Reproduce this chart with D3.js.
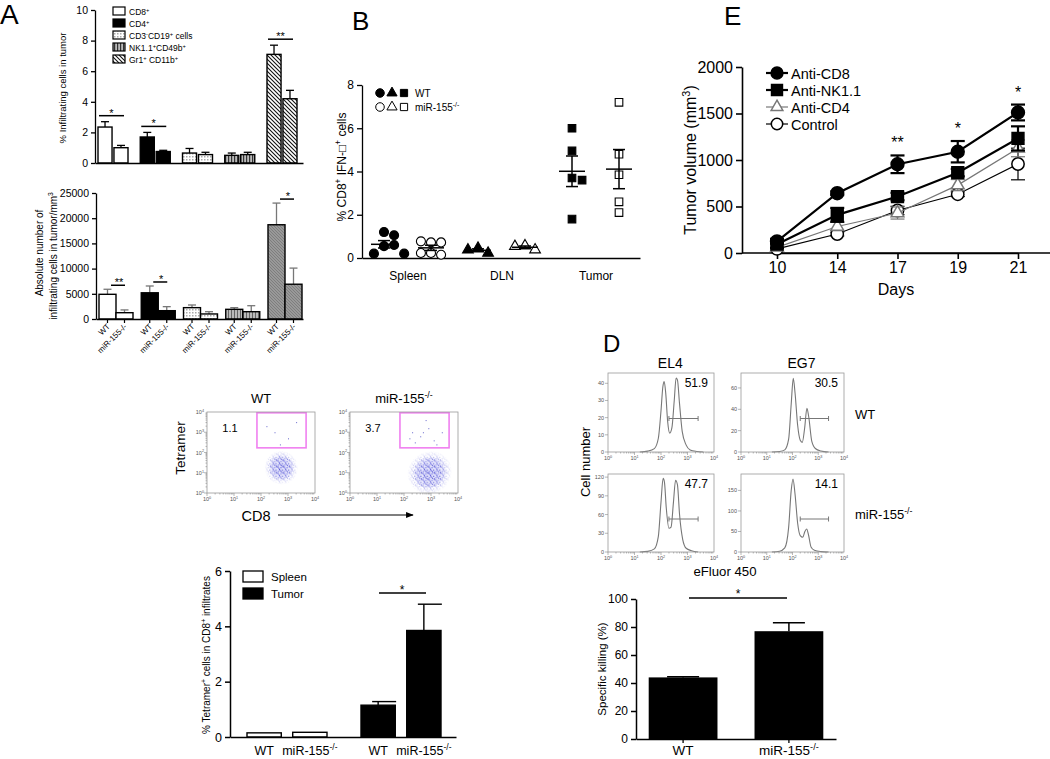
<!DOCTYPE html>
<html><head><meta charset="utf-8">
<script src="https://cdn.jsdelivr.net/npm/d3@7"></script>
<style>body{margin:0;background:#fff}svg{font-family:"Liberation Sans",Arial,sans-serif}</style>
</head><body><svg id="c" width="1050" height="759"></svg>
<script>
// ================= DATA =================
const aCategories = ["CD8+","CD4+","CD3-CD19+","NK1.1+CD49b+","Gr1+CD11b+"];
const aLegendLabels = ["CD8^{+}","CD4^{+}","CD3^{-}CD19^{+} cells","NK1.1^{+}CD49b^{+}","Gr1^{+} CD11b^{+}"];
const aGroups = ["WT","miR-155-/-"];
const aPctWT = [2.35,1.7,0.65,0.5,7.1];
const aPctWTErr = [0.35,0.3,0.3,0.15,0.6];
const aPctKO = [1.0,0.75,0.55,0.55,4.2];
const aPctKOErr = [0.15,0.08,0.15,0.15,0.55];
const aPctTicks = [0,2,4,6,8,10];
const aAbsWT = [4900,5200,2250,1920,18700];
const aAbsWTErr = [1000,1350,530,330,4300];
const aAbsKO = [1250,1650,1000,1450,6900];
const aAbsKOErr = [550,800,450,1190,3200];
const aAbsTicks = [0,5000,10000,15000,20000,25000];
const aPctSig = [["CD8+","*"],["CD4+","*"],["Gr1+CD11b+","**"]];
const aAbsSig = [["CD8+","**"],["CD4+","*"],["Gr1+CD11b+","*"]];
const bTissues = ["Spleen","DLN","Tumor"];
const bWTValues = [[1.2,1.05,0.55,0.6,0.2,0.2],[0.46,0.23,0.38],[6.0,4.95,3.7,3.6,1.8]];
const bKOValues = [[0.72,0.72,0.77,0.23,0.15,0.23],[0.57,0.38,0.54],[7.2,4.8,3.85,2.6,2.1]];
const bTicks = [0,2,4,6,8];
const eDays = ["10","14","17","19","21"];
const eNames = ["Anti-CD8","Anti-NK1.1","Anti-CD4","Control"];
const eCD8 = [125,643,954,1089,1511];  const eCD8Err = [25,20,95,115,85];
const eNK = [95,410,607,864,1232];     const eNKErr = [40,75,40,40,130];
const eCD4 = [60,285,430,730,1125];    const eCD4Err = [20,45,65,60,90];
const eCtrl = [45,204,457,632,957];    const eCtrlErr = [15,20,45,25,170];
const eSig = [["17","**"],["19","*"],["21","*"]];
const eTicks = [0,500,1000,1500,2000];
const flowTitles = ["WT","miR-155^{-/-}"];
const flowGatePct = ["1.1","3.7"];
const flowGate = {x0:1.85,x1:3.67,y0:2.23,y1:3.96};
const flowClouds = [{cx:2.75,cy:1.25,rx:0.62,ry:0.85,rot:-30},{cx:2.95,cy:1.0,rx:0.85,ry:1.05,rot:-35}];
const flowGateDotsWT = [[2.5,3.0],[3.0,2.7],[3.3,3.5],[2.7,2.4],[2.2,3.3]];
const flowGateDotsKO = [[2.3,3.0],[2.6,2.8],[2.9,3.2],[3.1,2.6],[2.4,2.5],[3.4,3.0],[2.8,3.6],[2.2,2.7],[3.2,2.4],[2.7,3.0]];
const logTickLabels = ["10^{0}","10^{1}","10^{2}","10^{3}","10^{4}"];
const tTissues = ["Spleen","Tumor"];
const tWT = [0.15,1.15]; const tWTErr = [0,0.13];
const tKO = [0.17,3.85]; const tKOErr = [0,0.95];
const tTicks = [0,2,4,6];
const histTitles = ["EL4","EG7"];
const histRows = ["WT","miR-155^{-/-}"];
const histPct = [["51.9","30.5"],["47.7","14.1"]];
const histEL4WT = [[1.2,0],[1.5,0.5],[1.75,2],[1.9,8],[2.0,24],[2.07,38],[2.12,41],[2.18,34],[2.25,18],[2.33,11],[2.41,14],[2.5,30],[2.57,43],[2.62,42],[2.7,28],[2.8,12],[2.95,4],[3.1,1.2],[3.35,0.3],[3.6,0]];
const histEG7WT = [[1.2,0],[1.5,0.5],[1.7,2],[1.85,12],[1.95,45],[2.03,69],[2.1,55],[2.2,25],[2.3,11],[2.38,9],[2.47,22],[2.56,41],[2.63,33],[2.75,10],[2.9,3],[3.1,1],[3.4,0]];
const histEL4KO = [[1.2,0],[1.5,1],[1.75,5],[1.9,25],[2.0,80],[2.08,118],[2.13,112],[2.2,70],[2.3,38],[2.38,40],[2.47,80],[2.55,115],[2.62,108],[2.7,60],[2.82,20],[2.95,6],[3.15,2],[3.4,0]];
const histEG7KO = [[1.2,0],[1.5,2],[1.7,10],[1.85,60],[1.95,150],[2.02,178],[2.1,140],[2.2,70],[2.3,40],[2.4,36],[2.48,50],[2.55,56],[2.62,42],[2.72,12],[2.85,4],[3.1,1],[3.4,0]];
const histYMax = [[46,74],[125,190]];
const histYTicks = [[[0,10,20,30,40],[0,20,40,60]],[[0,30,60,90,120],[0,50,100,150]]];
const histGate = [2.3,3.4];
const dGroups = ["WT","miR-155^{-/-}"];
const dVals = [44,77]; const dErr = [0.5,6];
const dTicks = [0,20,40,60,80,100];

// ================= HELPERS =================
const svg = d3.select("#c");
const defs = svg.append("defs");
const fmtInt = d3.format("d");
function rich(t, str, fs){
  t.attr("font-size", fs);
  const parts=[]; const re=/\^\{([^}]*)\}/g; let last=0,m;
  while((m=re.exec(str))){ if(m.index>last) parts.push([str.slice(last,m.index),false]); parts.push([m[1],true]); last=re.lastIndex; }
  if(last<str.length) parts.push([str.slice(last),false]);
  let cur=0;
  parts.forEach(([s,sup])=>{ const tgt = sup? -0.38*fs : 0; t.append("tspan").attr("dy", tgt-cur).attr("font-size", sup? fs*0.68: fs).text(s); cur=tgt; });
  return t;
}
function txt(g,x,y,str,fs,o={}){
  const t = g.append("text").attr("x",x).attr("y",y).attr("text-anchor",o.anchor||"start").attr("fill",o.fill||"#000");
  if(o.rotate!==undefined) t.attr("transform",`rotate(${o.rotate},${x},${y})`);
  return rich(t,str,fs);
}
function styleAxis(g,fs,sw=1.3,col="#000"){
  g.attr("font-family",null);
  g.selectAll("path,line").attr("stroke",col).attr("stroke-width",sw);
  g.selectAll("text").attr("font-size",fs).attr("fill","#000");
}
function pat(id,w,h,bg,draw){
  const p=defs.append("pattern").attr("id",id).attr("patternUnits","userSpaceOnUse").attr("width",w).attr("height",h);
  p.append("rect").attr("width",w).attr("height",h).attr("fill",bg); draw(p);
}
pat("pDot",3,3,"#fff",p=>{p.append("rect").attr("width",1.5).attr("height",1.5).attr("fill","#aaa");});
pat("pVT",3,3,"#bbb",p=>p.append("rect").attr("width",1.2).attr("height",3).attr("fill","#333"));
pat("pVB",3,3,"#bbb",p=>p.append("rect").attr("width",1).attr("height",3).attr("fill","#666"));
pat("pDiagT",4,4,"#fff",p=>p.append("path").attr("d","M-1,3 l2,2 M0,0 l4,4 M3,-1 l2,2").attr("stroke","#111").attr("stroke-width",1.1));
pat("pDiagB",3,3,"#999",p=>p.append("path").attr("d","M-1,2 l2,2 M0,0 l3,3 M2,-1 l2,2").attr("stroke","#777").attr("stroke-width",0.8));
// irregular dot texture for the flow-cytometry density clouds
const texDots = [[0.3,0.4,"#2a2ac8"],[3.1,1.0,"#5a5ae0"],[1.7,2.8,"#2a2ac8"],[4.6,3.3,"#3a3ad0"],[0.6,4.7,"#6a6ae8"],[3.5,5.1,"#2a2ac8"],[5.2,0.1,"#3a3ad0"],[2.4,4.0,"#4a4ad8"],[5.6,5.5,"#2a2ac8"],[1.2,1.6,"#7070e8"]];
pat("fdots",6.3,6.3,"none",p=>texDots.forEach(([x,y,c])=>p.append("rect").attr("x",x).attr("y",y).attr("width",1.1).attr("height",1.1).attr("fill",c)));
const rg = defs.append("radialGradient").attr("id","cloudGrad");
rg.append("stop").attr("offset","0").attr("stop-color","#fff");
rg.append("stop").attr("offset","0.5").attr("stop-color","#bbb");
rg.append("stop").attr("offset","1").attr("stop-color","#000");

// ================= PANEL A =================
const gA = svg.append("g");
txt(gA,0,24,"A",28);
const topFills = ["#fff","#000","url(#pDot)","url(#pVT)","url(#pDiagT)"];
const botFills = ["#fff","#000","url(#pDot)","url(#pVB)","url(#pDiagB)"];
function barsA(g,xs,sub,y,wt,wtE,ko,koE,fills,errCol){
  const rows = aCategories.flatMap((c,i)=>[{c,i,grp:aGroups[0],v:wt[i],e:wtE[i]},{c,i,grp:aGroups[1],v:ko[i],e:koE[i]}]);
  const cx = d=>xs(d.c)+sub(d.grp)+sub.bandwidth()/2;
  g.selectAll(null).data(rows).join("line").attr("x1",cx).attr("x2",cx).attr("y1",d=>y(d.v)).attr("y2",d=>y(d.v+d.e)).attr("stroke",errCol).attr("stroke-width",1.3);
  g.selectAll(null).data(rows).join("line").attr("x1",d=>cx(d)-4).attr("x2",d=>cx(d)+4).attr("y1",d=>y(d.v+d.e)).attr("y2",d=>y(d.v+d.e)).attr("stroke",errCol).attr("stroke-width",1.3);
  g.selectAll(null).data(rows).join("rect").attr("x",d=>xs(d.c)+sub(d.grp)).attr("y",d=>y(d.v)).attr("width",sub.bandwidth()).attr("height",d=>y(0)-y(d.v)).attr("fill",d=>fills[d.i]).attr("stroke","#000").attr("stroke-width",1.4);
  return {rows,cx};
}
const yA1 = d3.scaleLinear().domain([0,10]).range([163,10]);
const xA1 = d3.scalePoint().domain(aCategories).range([113,282]);
const sA1 = d3.scaleBand().domain(aGroups).range([-15,15]).paddingInner(0.12);
barsA(gA,xA1,sA1,yA1,aPctWT,aPctWTErr,aPctKO,aPctKOErr,topFills,"#000");
styleAxis(gA.append("g").attr("transform","translate(95,0)").call(d3.axisLeft(yA1).tickValues(aPctTicks).tickFormat(fmtInt).tickSize(4).tickSizeOuter(0)),10.5);
styleAxis(gA.append("g").attr("transform","translate(0,163)").call(d3.axisBottom(d3.scaleLinear().range([95,303])).tickValues([]).tickSizeOuter(0)),10);
txt(gA,66,88,"% Infiltrating cells in tumor",9.5,{anchor:"middle",rotate:-90});
aPctSig.forEach(([c,s])=>{
  const i=aCategories.indexOf(c); const top=Math.max(aPctWT[i]+aPctWTErr[i],aPctKO[i]+aPctKOErr[i]);
  const ly=yA1(top)-6;
  gA.append("line").attr("x1",xA1(c)-14).attr("x2",xA1(c)+11).attr("y1",ly).attr("y2",ly).attr("stroke","#000").attr("stroke-width",1.5);
  txt(gA,xA1(c)-1.5,ly+1,s,11,{anchor:"middle"});
});
aLegendLabels.forEach((l,i)=>{
  gA.append("rect").attr("x",113).attr("y",7+i*12).attr("width",12).attr("height",8).attr("fill",topFills[i]).attr("stroke","#000").attr("stroke-width",1.2);
  txt(gA,129,15+i*12,l,8.5);
});
const yA2 = d3.scaleLinear().domain([0,25000]).range([319,193]);
const xA2 = d3.scalePoint().domain(aCategories).range([116,285]);
const sA2 = d3.scaleBand().domain(aGroups).range([-17,17]).paddingInner(0);
const bA2 = barsA(gA,xA2,sA2,yA2,aAbsWT,aAbsWTErr,aAbsKO,aAbsKOErr,botFills,"#777");
styleAxis(gA.append("g").attr("transform","translate(96,0)").call(d3.axisLeft(yA2).tickValues(aAbsTicks).tickFormat(fmtInt).tickSize(4).tickSizeOuter(0)),10.5);
styleAxis(gA.append("g").attr("transform","translate(0,319)").call(d3.axisBottom(d3.scaleLinear().range([96,303])).tickValues([]).tickSizeOuter(0)),10);
gA.selectAll(null).data(bA2.rows).join("line").attr("x1",bA2.cx).attr("x2",bA2.cx).attr("y1",319).attr("y2",323).attr("stroke","#000").attr("stroke-width",1.2);
bA2.rows.forEach(d=>{ txt(gA,bA2.cx(d)+3,327,d.grp,8,{anchor:"end",rotate:-45}); });
txt(gA,43,253,"Absolute number of",10,{anchor:"middle",rotate:-90});
txt(gA,57,256,"infiltrating cells in tumor/mm^{3}",10,{anchor:"middle",rotate:-90});
aAbsSig.forEach(([c,s])=>{
  const i=aCategories.indexOf(c); const top=Math.max(aAbsWT[i]+aAbsWTErr[i],aAbsKO[i]+aAbsKOErr[i]);
  const ly=yA2(top)-4;
  gA.append("line").attr("x1",xA2(c)-5).attr("x2",xA2(c)+9).attr("y1",ly).attr("y2",ly).attr("stroke","#000").attr("stroke-width",1.5);
  txt(gA,xA2(c)+3,ly+1,s,11,{anchor:"middle"});
});

// ================= PANEL B =================
const gB = svg.append("g");
txt(gB,352,30,"B",26);
const yB = d3.scaleLinear().domain([0,8]).range([258,85]);
const xB = d3.scalePoint().domain(bTissues).range([408,596]);
const sB = d3.scalePoint().domain(["WT","KO"]).range([-24,23]);
styleAxis(gB.append("g").attr("transform","translate(362,0)").call(d3.axisLeft(yB).tickValues(bTicks).tickFormat(fmtInt).tickSize(5).tickSizeOuter(0)),12);
styleAxis(gB.append("g").attr("transform","translate(0,258)").call(d3.axisBottom(d3.scaleLinear().range([362,640])).tickValues([]).tickSizeOuter(0)),12);
bTissues.forEach(t=>txt(gB,xB(t),280,t,12,{anchor:"middle"}));
txt(gB,346,167,"% CD8^{+} IFN-\u25A1^{+} cells",12,{anchor:"middle",rotate:-90});
const bShapes = [d3.symbolCircle,d3.symbolTriangle,d3.symbolSquare];
const bSizes = [64,50,58];
function swarm(vals,y,r){
  const placed=[];
  return vals.map(v=>{ const py=y(v); let off=0;
    for(let k=0;k<30;k++){ const cand = k===0?0:(k%2?1:-1)*Math.ceil(k/2)*r*2.1;
      if(placed.every(p=>Math.hypot(p.x-cand,p.y-py)>=2*r)){off=cand;break;} }
    placed.push({x:off,y:py}); return off; });
}
bTissues.forEach((t,ti)=>{
  [["WT",bWTValues[ti],"#000"],["KO",bKOValues[ti],"#fff"]].forEach(([grp,vals,fill])=>{
    const cx = xB(t)+sB(grp);
    const offs = swarm(vals,yB,4.8);
    gB.selectAll(null).data(vals).join("path")
      .attr("d",d3.symbol().type(bShapes[ti]).size(bSizes[ti]))
      .attr("transform",(v,i)=>`translate(${cx+offs[i]},${yB(v)})`)
      .attr("fill",fill).attr("stroke","#000").attr("stroke-width",1.1);
    const mean=d3.mean(vals), se=d3.deviation(vals)/Math.sqrt(vals.length);
    gB.append("line").attr("x1",cx-13).attr("x2",cx+13).attr("y1",yB(mean)).attr("y2",yB(mean)).attr("stroke","#000").attr("stroke-width",1.5);
    gB.append("line").attr("x1",cx).attr("x2",cx).attr("y1",yB(mean-se)).attr("y2",yB(mean+se)).attr("stroke","#000").attr("stroke-width",1.5);
    [mean-se,mean+se].forEach(v=>gB.append("line").attr("x1",cx-6).attr("x2",cx+6).attr("y1",yB(v)).attr("y2",yB(v)).attr("stroke","#000").attr("stroke-width",1.5));
  });
});
bShapes.forEach((s,i)=>{
  gB.append("path").attr("d",d3.symbol().type(s).size(bSizes[i]*0.9)).attr("transform",`translate(${380+i*12},93)`).attr("fill","#000").attr("stroke","#000");
  gB.append("path").attr("d",d3.symbol().type(s).size(bSizes[i]*0.9)).attr("transform",`translate(${380+i*12},107)`).attr("fill","#fff").attr("stroke","#000").attr("stroke-width",1);
});
txt(gB,415,97,"WT",10);
txt(gB,415,111,"miR-155^{-/-}",10);

// ================= PANEL E =================
const gE = svg.append("g");
txt(gE,724,25,"E",26);
const xE = d3.scalePoint().domain(eDays).range([777,1018]);
const yE = d3.scaleLinear().domain([0,2000]).range([253,67]);
styleAxis(gE.append("g").attr("transform","translate(742,0)").call(d3.axisLeft(yE).tickValues(eTicks).tickFormat(fmtInt).tickSize(6).tickSizeOuter(0)),16,1.6);
styleAxis(gE.append("g").attr("transform","translate(0,253)").call(d3.axisBottom(xE).tickSize(6).tickSizeOuter(0)),16,1.6);
gE.append("line").attr("x1",742).attr("x2",1050).attr("y1",253).attr("y2",253).attr("stroke","#000").attr("stroke-width",1.6);
txt(gE,896,295,"Days",16,{anchor:"middle"});
txt(gE,696,160,"Tumor volume (mm^{3})",16,{anchor:"middle",rotate:-90});
const eSeries = [
  {name:eNames[3],v:eCtrl,e:eCtrlErr,sym:d3.symbolCircle,size:120,fill:"#fff",col:"#000",lw:1.2},
  {name:eNames[2],v:eCD4,e:eCD4Err,sym:d3.symbolTriangle,size:70,fill:"#fff",col:"#777",lw:1.2},
  {name:eNames[1],v:eNK,e:eNKErr,sym:d3.symbolSquare,size:140,fill:"#000",col:"#000",lw:2.2},
  {name:eNames[0],v:eCD8,e:eCD8Err,sym:d3.symbolCircle,size:130,fill:"#000",col:"#000",lw:2.2}
];
eSeries.forEach(s=>{
  const pts = eDays.map((d,i)=>({d,v:s.v[i],e:s.e[i]}));
  gE.append("path").datum(pts).attr("d",d3.line().x(p=>xE(p.d)).y(p=>yE(p.v))).attr("fill","none").attr("stroke",s.col).attr("stroke-width",s.lw);
  pts.forEach(p=>{
    const x=xE(p.d);
    gE.append("line").attr("x1",x).attr("x2",x).attr("y1",yE(p.v-p.e)).attr("y2",yE(p.v+p.e)).attr("stroke",s.col).attr("stroke-width",s.lw);
    [p.v-p.e,p.v+p.e].forEach(v=>gE.append("line").attr("x1",x-7).attr("x2",x+7).attr("y1",yE(v)).attr("y2",yE(v)).attr("stroke",s.col).attr("stroke-width",s.lw));
  });
  gE.selectAll(null).data(pts).join("path").attr("d",d3.symbol().type(s.sym).size(s.size)).attr("transform",p=>`translate(${xE(p.d)},${yE(p.v)})`).attr("fill",s.fill).attr("stroke",s.col).attr("stroke-width",1.5);
});
eNames.forEach((n,i)=>{
  const s = eSeries.find(q=>q.name===n); const y=73+i*17;
  gE.append("line").attr("x1",766).attr("x2",788).attr("y1",y).attr("y2",y).attr("stroke",s.col).attr("stroke-width",s.lw);
  gE.append("path").attr("d",d3.symbol().type(s.sym).size(s.size*0.85)).attr("transform",`translate(777,${y})`).attr("fill",s.fill).attr("stroke",s.col).attr("stroke-width",1.5);
  txt(gE,791,y+5.5,n,14.5);
});
eSig.forEach(([d,s])=>{
  const i=eDays.indexOf(d); const top = d3.max(eSeries,q=>q.v[i]+q.e[i]);
  txt(gE,xE(d),yE(top)-7,s,16,{anchor:"middle"});
});

// ================= FLOW PLOTS =================
const gF = svg.append("g");
const flowBoxes = [[207,315],[350,458]];
flowBoxes.forEach(([x0,x1],k)=>{
  const xs = d3.scaleLinear().domain([0,4]).range([x0,x1]);
  const ys = d3.scaleLinear().domain([0,4]).range([493,412]);
  const g = gF.append("g");
  const c = flowClouds[k];
  const mid = `m${k}`, cid = `clip${k}`;
  defs.append("clipPath").attr("id",cid).append("rect").attr("x",x0).attr("y",412).attr("width",x1-x0).attr("height",81);
  const ecx = xs(c.cx), ecy = ys(c.cy), erx = xs(c.cx+c.rx)-xs(c.cx), ery = ys(c.cy)-ys(c.cy+c.ry);
  const mk = defs.append("mask").attr("id",mid);
  mk.append("ellipse").attr("cx",ecx).attr("cy",ecy).attr("rx",erx).attr("ry",ery).attr("transform",`rotate(${c.rot},${ecx},${ecy})`).attr("fill","url(#cloudGrad)");
  const gc = g.append("g").attr("clip-path",`url(#${cid})`);
  gc.append("ellipse").attr("cx",ecx).attr("cy",ecy).attr("rx",erx*0.7).attr("ry",ery*0.7).attr("transform",`rotate(${c.rot},${ecx},${ecy})`).attr("fill","#c0c0f4").attr("opacity",0.5).attr("mask",`url(#${mid})`);
  gc.append("rect").attr("x",x0).attr("y",412).attr("width",x1-x0).attr("height",81).attr("fill","url(#fdots)").attr("mask",`url(#${mid})`);
  (k===0?flowGateDotsWT:flowGateDotsKO).forEach(([lx,ly])=>g.append("rect").attr("x",xs(lx)).attr("y",ys(ly)).attr("width",1).attr("height",1).attr("fill","#66c"));
  g.append("rect").attr("x",xs(flowGate.x0)).attr("y",ys(flowGate.y1)).attr("width",xs(flowGate.x1)-xs(flowGate.x0)).attr("height",ys(flowGate.y0)-ys(flowGate.y1)).attr("fill","none").attr("stroke","#f080f0").attr("stroke-width",1.6);
  g.append("rect").attr("x",x0).attr("y",412).attr("width",x1-x0).attr("height",81).attr("fill","none").attr("stroke","#999").attr("stroke-width",0.8);
  for(let dcd=0;dcd<4;dcd++) for(let m=1;m<10;m++){ const lv=dcd+Math.log10(m); const L=m===1?3:1.5;
    g.append("line").attr("x1",xs(lv)).attr("x2",xs(lv)).attr("y1",493).attr("y2",493+L).attr("stroke","#888").attr("stroke-width",0.6);
    g.append("line").attr("x1",x0-L).attr("x2",x0).attr("y1",ys(lv)).attr("y2",ys(lv)).attr("stroke","#888").attr("stroke-width",0.6); }
  logTickLabels.forEach((l,i)=>{ txt(g,xs(i),501,l,5.5,{anchor:"middle",fill:"#555"}); txt(g,x0-3,ys(i)+2,l,5.5,{anchor:"end",fill:"#555"}); });
  txt(g,(x0+x1)/2,403,flowTitles[k],13,{anchor:"middle"});
  txt(g,xs(0.85),432,flowGatePct[k],11,{anchor:"middle"});
});
txt(gF,185,448,"Tetramer",13.5,{anchor:"middle",rotate:-90});
txt(gF,256,521,"CD8",14.5,{anchor:"middle"});
defs.append("marker").attr("id","arr").attr("viewBox","0 0 10 10").attr("refX",9).attr("refY",5).attr("markerWidth",7).attr("markerHeight",7).attr("orient","auto").append("path").attr("d","M0,1 L10,5 L0,9 Z").attr("fill","#000");
gF.append("line").attr("x1",278).attr("x2",413).attr("y1",515).attr("y2",515).attr("stroke","#000").attr("stroke-width",1.1).attr("marker-end","url(#arr)");

// ================= TETRAMER BARS =================
const gT = svg.append("g");
const yT = d3.scaleLinear().domain([0,6]).range([737,571]);
const xT = d3.scalePoint().domain(tTissues).range([287,401]);
const sT = d3.scaleBand().domain(aGroups).range([-40,40]).paddingInner(0.25);
const tRows = tTissues.flatMap((t,i)=>[{t,i,grp:aGroups[0],v:tWT[i],e:tWTErr[i]},{t,i,grp:aGroups[1],v:tKO[i],e:tKOErr[i]}]);
const tcx = d=>xT(d.t)+sT(d.grp)+sT.bandwidth()/2;
tRows.filter(d=>d.e>0).forEach(d=>{
  gT.append("line").attr("x1",tcx(d)).attr("x2",tcx(d)).attr("y1",yT(d.v)).attr("y2",yT(d.v+d.e)).attr("stroke","#000").attr("stroke-width",1.4);
  gT.append("line").attr("x1",tcx(d)-6).attr("x2",tcx(d)+18).attr("y1",yT(d.v+d.e)).attr("y2",yT(d.v+d.e)).attr("stroke","#000").attr("stroke-width",1.4);
});
gT.selectAll(null).data(tRows).join("rect").attr("x",d=>xT(d.t)+sT(d.grp)).attr("y",d=>yT(d.v)).attr("width",sT.bandwidth()).attr("height",d=>yT(0)-yT(d.v)).attr("fill",d=>d.t==="Spleen"?"#fff":"#000").attr("stroke","#000").attr("stroke-width",1.4);
styleAxis(gT.append("g").attr("transform","translate(230,0)").call(d3.axisLeft(yT).tickValues(tTicks).tickFormat(fmtInt).tickSize(5).tickSizeOuter(0)),12.5,1.5);
styleAxis(gT.append("g").attr("transform","translate(0,737)").call(d3.axisBottom(d3.scaleLinear().range([230,456])).tickValues([]).tickSizeOuter(0)),12,1.5);
tRows.forEach(d=>txt(gT,tcx(d),755,d.grp==="WT"?"WT":"miR-155^{-/-}",12.5,{anchor:"middle"}));
txt(gT,210,655,"% Tetramer^{+} cells in CD8^{+} infiltrates",10,{anchor:"middle",rotate:-90});
[["Spleen","#fff"],["Tumor","#000"]].forEach(([n,f],i)=>{
  gT.append("rect").attr("x",243).attr("y",571+i*17).attr("width",20).attr("height",11).attr("fill",f).attr("stroke","#000").attr("stroke-width",1.3);
  txt(gT,271,581+i*17,n,11.5);
});
{ const ly = 593;
  gT.append("line").attr("x1",379).attr("x2",426).attr("y1",ly).attr("y2",ly).attr("stroke","#000").attr("stroke-width",1.4);
  txt(gT,402,ly+1,"*",12,{anchor:"middle"}); }

// ================= PANEL D =================
const gD = svg.append("g");
txt(gD,603,352,"D",24);
const histCols = [[608,714],[741,844]];
const histRowsY = [[373,452],[474,552]];
const histData = [[histEL4WT,histEG7WT],[histEL4KO,histEG7KO]];
histRowsY.forEach(([y0,y1],r)=>{
  histCols.forEach(([x0,x1],c)=>{
    const g = gD.append("g");
    const xs = d3.scaleLinear().domain([0,4]).range([x0,x1]);
    const ys = d3.scaleLinear().domain([0,histYMax[r][c]]).range([y1,y0]);
    g.append("path").datum(histData[r][c]).attr("d",d3.line().x(p=>xs(p[0])).y(p=>ys(p[1])).curve(d3.curveMonotoneX)).attr("fill","none").attr("stroke","#777").attr("stroke-width",1.1);
    g.append("rect").attr("x",x0).attr("y",y0).attr("width",x1-x0).attr("height",y1-y0).attr("fill","none").attr("stroke","#999").attr("stroke-width",0.8);
    for(let dcd=0;dcd<4;dcd++) for(let m=1;m<10;m++){ const lv=dcd+Math.log10(m); const L=m===1?3:1.5;
      g.append("line").attr("x1",xs(lv)).attr("x2",xs(lv)).attr("y1",y1).attr("y2",y1+L).attr("stroke","#888").attr("stroke-width",0.6); }
    logTickLabels.forEach((l,i)=>txt(g,xs(i),y1+8,l,5.5,{anchor:"middle",fill:"#555"}));
    histYTicks[r][c].forEach(v=>{ g.append("line").attr("x1",x0-3).attr("x2",x0).attr("y1",ys(v)).attr("y2",ys(v)).attr("stroke","#888").attr("stroke-width",0.6);
      txt(g,x0-4,ys(v)+2,String(v),5.5,{anchor:"end",fill:"#555"}); });
    const gy = (y0+y1)/2 + 6;
    g.append("line").attr("x1",xs(histGate[0])).attr("x2",xs(histGate[1])).attr("y1",gy).attr("y2",gy).attr("stroke","#777").attr("stroke-width",1);
    histGate.forEach(v=>g.append("line").attr("x1",xs(v)).attr("x2",xs(v)).attr("y1",gy-2.5).attr("y2",gy+2.5).attr("stroke","#777").attr("stroke-width",1));
    txt(g,x1-6,y0+14,histPct[r][c],12,{anchor:"end"});
    if(r===0) txt(g,xs(2.35),y0-5,histTitles[c],14,{anchor:"middle"});
  });
  txt(gD,855,(y0+y1)/2+6,histRows[r],13);
});
txt(gD,590,462,"Cell number",13,{anchor:"middle",rotate:-90});
txt(gD,725,576,"eFluor 450",13.2,{anchor:"middle"});
const yD = d3.scaleLinear().domain([0,100]).range([739,599]);
const xD = d3.scaleBand().domain(dGroups).range([636,836]).paddingInner(0.35).paddingOuter(0.12);
dGroups.forEach((gname,i)=>{
  const cx = xD(gname)+xD.bandwidth()/2;
  gD.append("line").attr("x1",cx).attr("x2",cx).attr("y1",yD(dVals[i])).attr("y2",yD(dVals[i]+dErr[i])).attr("stroke","#000").attr("stroke-width",1.5);
  gD.append("line").attr("x1",cx-16).attr("x2",cx+16).attr("y1",yD(dVals[i]+dErr[i])).attr("y2",yD(dVals[i]+dErr[i])).attr("stroke","#000").attr("stroke-width",1.5);
  gD.append("rect").attr("x",xD(gname)).attr("y",yD(dVals[i])).attr("width",xD.bandwidth()).attr("height",yD(0)-yD(dVals[i])).attr("fill","#000");
  gD.append("line").attr("x1",cx).attr("x2",cx).attr("y1",739).attr("y2",743).attr("stroke","#000").attr("stroke-width",1.3);
  txt(gD,cx,755,gname,13.5,{anchor:"middle"});
});
styleAxis(gD.append("g").attr("transform","translate(636,0)").call(d3.axisLeft(yD).tickValues(dTicks).tickFormat(fmtInt).tickSize(5).tickSizeOuter(0)),12,1.5);
styleAxis(gD.append("g").attr("transform","translate(0,739)").call(d3.axisBottom(d3.scaleLinear().range([636,836])).tickValues([]).tickSizeOuter(0)),12,1.5);
txt(gD,606,669,"Specific killing (%)",11.5,{anchor:"middle",rotate:-90});
gD.append("line").attr("x1",689).attr("x2",787).attr("y1",598).attr("y2",598).attr("stroke","#000").attr("stroke-width",1.6);
txt(gD,738,598,"*",12,{anchor:"middle"});
</script></body></html>
